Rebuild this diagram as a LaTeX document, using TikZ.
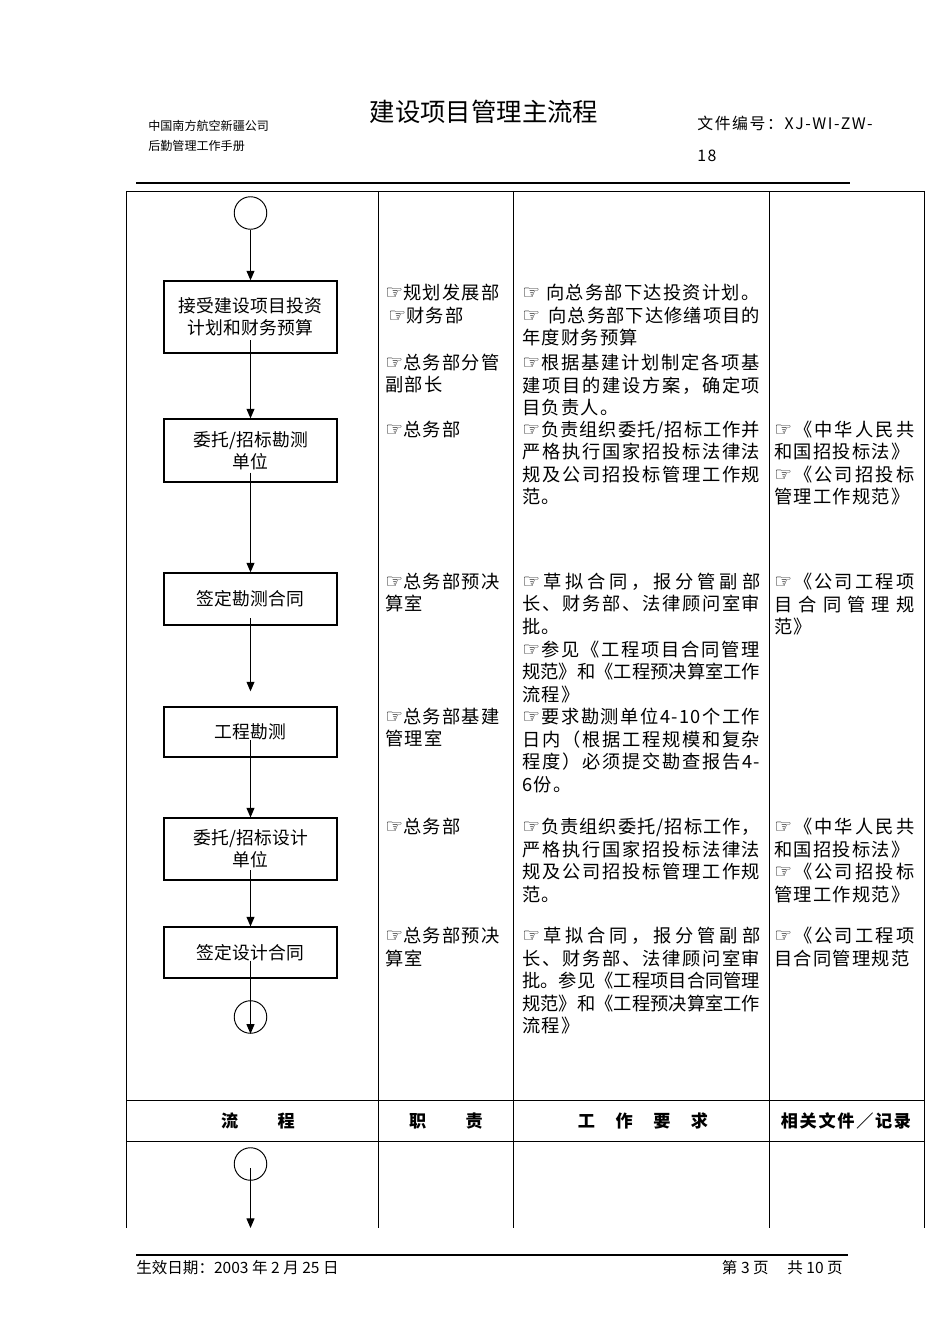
\documentclass[tikz,border=0pt]{standalone}
\usepackage{fontspec}
\setmainfont{Noto Sans CJK SC}
\newfontfamily\cjk[LetterSpace=7]{Noto Sans CJK SC}
\newfontfamily\cjkhead[LetterSpace=10]{Noto Sans CJK SC}
\newfontfamily\cjkbox[LetterSpace=1]{Noto Sans CJK SC}
\newfontfamily\symfont{DejaVu Sans}
\usepackage{tikz}
\usetikzlibrary{positioning,calc,arrows.meta}

% pointing hand in front of each item
\newcommand\hand{{\symfont\fontsize{12.5pt}{12.5pt}\selectfont ☞}}

% spread the glyphs of one line over a fixed width
\def\endspread{ENDSPREAD}
\def\spreadfirst#1{#1\spreadrest}
\def\spreadrest#1{\ifx\endspread#1\else\hskip0pt plus1fil minus1fil\relax#1\expandafter\spreadrest\fi}
\newcommand\spreadto[2]{\makebox[#1][s]{\spreadfirst#2\endspread}}
\newcommand\fillC[1]{\spreadto{149.9pt}{#1}}
\newcommand\fillD[1]{\spreadto{88.2pt}{#1}}

\begin{document}
\begin{tikzpicture}[
        x=0.63pt, y=-0.63pt,
        flowbox/.style={rectangle, draw, line width=0.8pt, minimum width=109pt, align=center, inner sep=2pt, font=\cjkbox\fontsize{11.2pt}{13.9pt}\selectfont},
        flowcircle/.style={circle, draw, line width=0.6pt, minimum size=20.5pt, inner sep=0pt},
        flowarrow/.style={-{Triangle[length=6pt,width=5pt]}, line width=0.6pt},
        cell/.style={anchor=north west, inner sep=0pt, align=left, font=\cjk\fontsize{11.5pt}{14.2pt}\selectfont},
        dutycell/.style={cell, text width=80pt},
        taskcell/.style={cell, text width=156pt},
        doccell/.style={cell, text width=94pt},
        headcell/.style={inner sep=0pt, font=\cjkhead\bfseries\fontsize{10.8pt}{12pt}\selectfont},
        pagetext/.style={inner sep=0pt},
        grid/.style={line width=0.6pt}
        ]
        \useasboundingbox (0,0) rectangle (950,1344);

        % Page header
        \node[pagetext, anchor=west, font=\fontsize{7.6pt}{9pt}\selectfont] (company) at (148,126) {中国南方航空新疆公司};
        \node[pagetext, anchor=west, font=\fontsize{7.6pt}{9pt}\selectfont] (manual) at (148,146) {后勤管理工作手册};
        \node[pagetext, font=\fontsize{16pt}{18pt}\selectfont] (title) at (484,112) {建设项目管理主流程};
        \node[pagetext, anchor=west, font=\cjkhead\fontsize{10pt}{12pt}\selectfont] (docno) at (697,123) {文件编号：XJ-WI-ZW-};
        \node[pagetext, anchor=west, font=\cjkhead\fontsize{10pt}{12pt}\selectfont] (docnum) at (697,156) {18};
        \draw[line width=1.5pt] (136,183) -- (850,183);

        % Table grid
        \draw[grid] (126,191) -- (924,191);
        \foreach \x in {126,378,513,769,924}
            \draw[grid] (\x,191) -- (\x,1228);
        \draw[grid] (126,1100) -- (924,1100);
        \draw[grid] (126,1141) -- (924,1141);

        % Column heads
        \node[headcell] (hdflow) at (258,1121) {流　　程};
        \node[headcell] (hdduty) at (446,1121) {职　　责};
        \node[headcell] (hdtask) at (643,1121) {工　作　要　求};
        \node[headcell] (hddoc) at (846,1121) {相关文件／记录};

        % Flow
        \node[flowcircle] (start) at (250.5,213) {};
        \node[flowbox, minimum height=45.4pt] (b1) at (250.5,317) {接受建设项目投资\\计划和财务预算};
        \node[flowbox, minimum height=39.7pt] (b2) at (250.5,450.5) {委托/招标勘测\\单位};
        \node[flowbox, minimum height=32.8pt] (b3) at (250.5,599) {签定勘测合同};
        \node[flowbox, minimum height=31.5pt] (b4) at (250.5,732) {工程勘测};
        \node[flowbox, minimum height=39pt] (b5) at (250.5,849) {委托/招标设计\\单位};
        \node[flowbox, minimum height=32.1pt] (b6) at (250.5,952.5) {签定设计合同};
        \node[flowcircle] (stop) at (250.5,1017) {};
        \node[flowcircle] (next) at (250.5,1164) {};
        \coordinate (tail) at (250.5,1228);

        \draw[flowarrow] (start) -- (b1);
        \draw[flowarrow] ($(b1.center)+(0,23)$) -- (b2.north);
        \draw[flowarrow] ($(b2.center)+(0,22)$) -- (b3.north);
        \draw[flowarrow, shorten >=9.5pt] ($(b3.center)+(0,19)$) -- (b4.north);
        \draw[flowarrow] ($(b4.center)+(0,8)$) -- (b5.north);
        \draw[flowarrow] ($(b5.center)+(0,21)$) -- (b6.north);
        \draw[flowarrow] ($(b6.center)+(0,8)$) -- (stop.south);
        \draw[flowarrow] ($(next.center)+(0,4)$) -- (tail);

        % Duties
        \node[dutycell] (duty1) at (385,284) {\hand 规划发展部\\\hspace{2pt}\hand 财务部};
        \node[dutycell] (duty2) at (385,353.7) {\hand 总务部分管\\副部长};
        \node[dutycell] (duty3) at (385,420.3) {\hand 总务部};
        \node[dutycell] (duty4) at (385,572.7) {\hand 总务部预决\\算室};
        \node[dutycell] (duty5) at (385,707.7) {\hand 总务部基建\\管理室};
        \node[dutycell] (duty6) at (385,818) {\hand 总务部};
        \node[dutycell] (duty7) at (385,927) {\hand 总务部预决\\算室};

        % Work requirements
        \node[taskcell] (task1) at (522,284) {\hand\ 向总务部下达投资计划。\\\fillC{\hand {\ }向总务部下达修缮项目的}\\年度财务预算};
        \node[taskcell] (task2) at (522,353.7) {\fillC{\hand 根据基建计划制定各项基}\\\fillC{建项目的建设方案，确定项}\\目负责人。};
        \node[taskcell] (task3) at (522,420.3) {\fillC{\hand 负责组织委托/招标工作并}\\\fillC{严格执行国家招投标法律法}\\\fillC{规及公司招投标管理工作规}\\范。};
        \node[taskcell] (task4) at (522,572.7) {\fillC{\hand 草拟合同，报分管副部}\\\fillC{长、财务部、法律顾问室审}\\批。\\\fillC{\hand 参见《工程项目合同管理}\\\fillC{规范》和《工程预决算室工作}\\流程》};
        \node[taskcell] (task5) at (522,707.7) {\fillC{\hand 要求勘测单位{4-10}个工作}\\\fillC{日内（根据工程规模和复杂}\\\fillC{程度）必须提交勘查报告{4-}}\\6份。};
        \node[taskcell] (task6) at (522,818) {\fillC{\hand 负责组织委托/招标工作，}\\\fillC{严格执行国家招投标法律法}\\\fillC{规及公司招投标管理工作规}\\范。};
        \node[taskcell] (task7) at (522,927) {\fillC{\hand 草拟合同，报分管副部}\\\fillC{长、财务部、法律顾问室审}\\\fillC{批。参见《工程项目合同管理}\\\fillC{规范》和《工程预决算室工作}\\流程》};

        % Related documents
        \node[doccell] (doc1) at (774,420.3) {\fillD{\hand 《中华人民共}\\和国招投标法》\\\fillD{\hand 《公司招投标}\\管理工作规范》};
        \node[doccell] (doc2) at (774,572.7) {\fillD{\hand 《公司工程项}\\\fillD{目合同管理规}\\范》};
        \node[doccell] (doc3) at (774,818) {\fillD{\hand 《中华人民共}\\和国招投标法》\\\fillD{\hand 《公司招投标}\\管理工作规范》};
        \node[doccell] (doc4) at (774,927) {\fillD{\hand 《公司工程项}\\目合同管理规范};

        % Page footer
        \draw[line width=0.9pt] (136,1255) -- (848,1255);
        \node[pagetext, anchor=west, font=\fontsize{9.8pt}{11pt}\selectfont] (date) at (136,1268) {生效日期：2003 年 2 月 25 日};
        \node[pagetext, anchor=east, font=\fontsize{9.8pt}{11pt}\selectfont] (pages) at (843,1268) {第 3 页\hspace{1.2em}共 10 页};
    \end{tikzpicture}
\end{document}
